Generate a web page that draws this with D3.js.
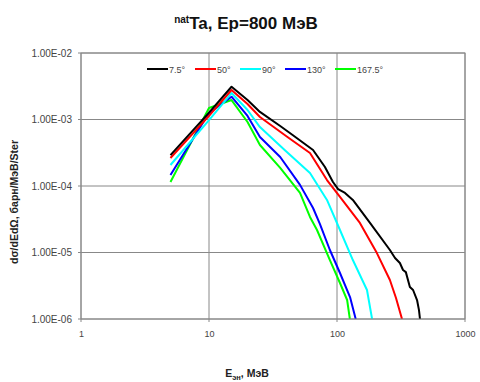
<html>
<head>
  <meta charset="utf-8" />
  <style>
    body { margin: 0; background: #fff; }
    text { font-family: Arial, "Liberation Sans", sans-serif; }
  </style>
</head>
<body>
  <svg id="chart" width="480" height="382"></svg>
</body>
<script src="https://cdn.jsdelivr.net/npm/d3@7"></script>
<script>

// angles and colours of the five series
var angles = ['7.5°', '50°', '90°', '130°', '167.5°']
var colors = ['#000000', '#ff0000', '#00ffff', '#0000ff', '#00ff00']

// energies (MeV) and cross sections for each angle
var e_7_5 = [5, 10, 15, 20, 25, 36, 45, 65, 80.5, 93, 102, 115.5, 133, 181, 259, 284, 310, 328, 345, 371, 393, 422, 437, 445]
var s_7_5 = [2.92e-4, 1.27e-3, 3.11e-3, 1.96e-3, 1.30e-3, 7.98e-4, 5.85e-4, 3.48e-4, 1.93e-4, 1.15e-4, 9.0e-5, 7.85e-5, 6.17e-5, 2.78e-5, 1.09e-5, 8.27e-6, 6.95e-6, 5.46e-6, 5.07e-6, 3.03e-6, 2.73e-6, 1.93e-6, 1.36e-6, 1.0e-6]

var e_50 = [5, 10, 15, 20, 25, 41, 61.5, 83.5, 105.5, 151, 205, 259, 289, 322]
var s_50 = [2.64e-4, 1.14e-3, 2.78e-3, 1.71e-3, 1.09e-3, 5.46e-4, 3.13e-4, 1.23e-4, 6.84e-5, 2.78e-5, 9.8e-6, 3.86e-6, 2.07e-6, 1.0e-6]

var e_90 = [5, 10, 15, 20, 25, 39, 61.5, 83.5, 105.5, 133, 171.5, 188]
var s_90 = [2.07e-4, 9.8e-4, 2.50e-3, 1.39e-3, 7.7e-4, 3.48e-4, 1.57e-4, 6.17e-5, 2.18e-5, 7.7e-6, 2.73e-6, 1.0e-6]

var e_130 = [5, 10, 15, 20, 25, 36, 51.4, 65, 73.6, 88, 105.5, 126.4, 140]
var s_130 = [1.46e-4, 1.25e-3, 2.20e-3, 1.13e-3, 5.46e-4, 2.73e-4, 1.04e-4, 4.67e-5, 2.68e-5, 1.09e-5, 4.92e-6, 2.14e-6, 1.0e-6]

var e_167_5 = [5, 10, 15, 20, 25, 36, 51.4, 61.5, 69.8, 88, 105.5, 120, 126]
var s_167_5 = [1.15e-4, 1.49e-3, 1.96e-3, 9.17e-4, 4.14e-4, 1.87e-4, 7.85e-5, 3.42e-5, 2.18e-5, 7.7e-6, 3.48e-6, 1.93e-6, 1.0e-6]

var xTicks = [1, 10, 100, 1000]
var yTicks = [1e-6, 1e-5, 1e-4, 1e-3, 1e-2]

var energies = [e_7_5, e_50, e_90, e_130, e_167_5]
var sigmas = [s_7_5, s_50, s_90, s_130, s_167_5]

var series = angles.map((a, i) => ({
  angle: a,
  color: colors[i],
  points: energies[i].map((e, j) => [e, sigmas[i][j]])
}))

var plotL = 81, plotR = 465, plotT = 53, plotB = 319

var x = d3.scaleLog().domain([1, 1000]).range([plotL, plotR])
var y = d3.scaleLog().domain([1e-6, 1e-2]).range([plotB, plotT])

var svg = d3.select('#chart')

svg.append('rect')
  .attr('width', 480).attr('height', 382).attr('fill', '#fff')

// title
var title = svg.append('text')
  .attr('x', 246).attr('y', 29)
  .attr('text-anchor', 'middle')
  .attr('font-size', 17).attr('font-weight', 'bold').attr('fill', '#111')
title.append('tspan').text('nat').attr('font-size', 10).attr('dy', -6)
title.append('tspan').text('Ta, Ep=800 МэВ').attr('dy', 6)

// grid
svg.append('g').selectAll('line').data(yTicks).join('line')
  .attr('x1', plotL - 3).attr('x2', plotR)
  .attr('y1', d => y(d)).attr('y2', d => y(d))
  .attr('stroke', '#888').attr('stroke-width', 1)

svg.append('g').selectAll('line').data(xTicks).join('line')
  .attr('x1', d => x(d)).attr('x2', d => x(d))
  .attr('y1', plotT).attr('y2', plotB + 3)
  .attr('stroke', '#888').attr('stroke-width', 1)

// axis labels
var yAxis = d3.axisLeft(y)
  .tickValues(yTicks)
  .tickSize(0)
  .tickPadding(9)
  .tickFormat(d => '1.00E-0' + Math.round(-Math.log10(d)))
var yg = svg.append('g').attr('transform', `translate(${plotL},0)`).call(yAxis)
yg.selectAll('.tick text').attr('font-size', 10)

var xAxis = d3.axisBottom(x)
  .tickValues(xTicks)
  .tickSize(0)
  .tickPadding(12)
  .tickFormat(d3.format('d'))
var xg = svg.append('g').attr('transform', `translate(0,${plotB})`).call(xAxis)
xg.selectAll('.tick text').attr('font-size', 9)

svg.selectAll('.domain').remove()
svg.selectAll('.tick text')
  .attr('fill', '#444')
  .attr('font-family', 'Arial, "Liberation Sans", sans-serif')

// axis titles
svg.append('text')
  .attr('transform', 'translate(18,202) rotate(-90)')
  .attr('text-anchor', 'middle')
  .attr('font-size', 10.5).attr('font-weight', 'bold').attr('fill', '#222')
  .text('dσ/dEdΩ, барн/МэВ/Ster')

var xt = svg.append('text')
  .attr('x', 247).attr('y', 377)
  .attr('text-anchor', 'middle')
  .attr('font-size', 10.5).attr('font-weight', 'bold').attr('fill', '#222')
xt.append('tspan').text('E')
xt.append('tspan').text('эн').attr('font-size', 7.5).attr('dy', 2.5)
xt.append('tspan').text(', МэВ').attr('dy', -2.5)

// curves
svg.append('clipPath').attr('id', 'plotclip')
  .append('rect').attr('x', plotL).attr('y', plotT)
  .attr('width', plotR - plotL).attr('height', plotB - plotT)

var line = d3.line().x(d => x(d[0])).y(d => y(d[1]))

svg.append('g').attr('clip-path', 'url(#plotclip)')
  .selectAll('path').data(series.slice().reverse()).join('path')
  .attr('d', d => line(d.points))
  .attr('fill', 'none')
  .attr('stroke', d => d.color)
  .attr('stroke-width', 2)
  .attr('stroke-linejoin', 'round')

// legend
var legendX = [147, 195, 240, 285, 335]
var lg = svg.append('g').selectAll('g').data(series).join('g')
  .attr('transform', (d, i) => `translate(${legendX[i]},69)`)
lg.append('line')
  .attr('x1', 0).attr('x2', 21)
  .attr('stroke', d => d.color).attr('stroke-width', 2)
lg.append('text')
  .attr('x', 22).attr('y', 3.5)
  .attr('font-size', 9).attr('fill', '#444')
  .text(d => d.angle)

// frame
svg.append('rect')
  .attr('x', plotL).attr('y', plotT)
  .attr('width', plotR - plotL).attr('height', plotB - plotT)
  .attr('fill', 'none').attr('stroke', '#888').attr('stroke-width', 1)

</script>
</html>
